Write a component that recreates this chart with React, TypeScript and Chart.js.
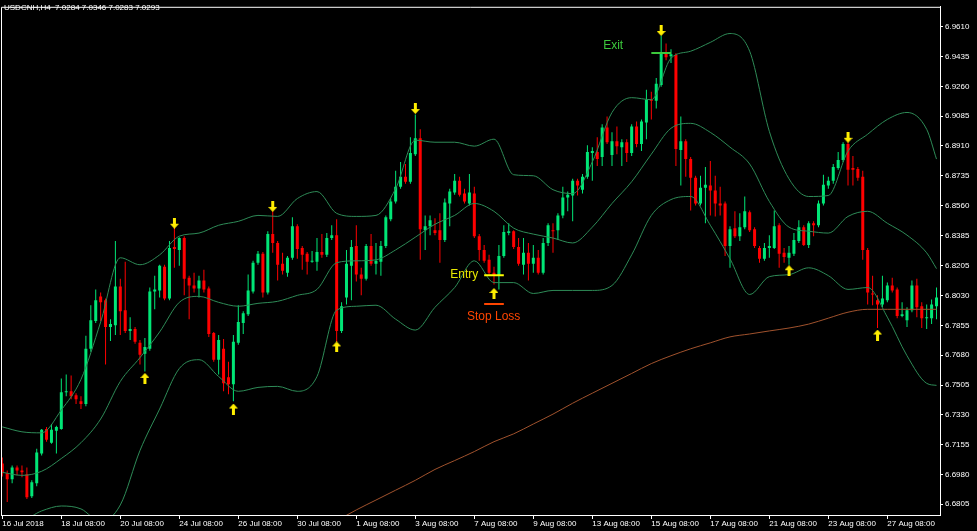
import React, { useEffect, useRef } from "react";
import { Chart, registerables } from "chart.js";
Chart.register(...registerables);

const headerText = "USDCNH,H4  7.0284 7.0346 7.0283 7.0293";

const dateTickIdx = [0, 12, 24, 36, 48, 60, 72, 84, 96, 108, 120, 132, 144, 156, 168, 180];
const dateLabels = [
  "16 Jul 2018", "18 Jul 08:00", "20 Jul 08:00", "24 Jul 08:00", "26 Jul 08:00", "30 Jul 08:00",
  "1 Aug 08:00", "3 Aug 08:00", "7 Aug 08:00", "9 Aug 08:00", "13 Aug 08:00", "15 Aug 08:00",
  "17 Aug 08:00", "21 Aug 08:00", "23 Aug 08:00", "27 Aug 08:00",
];
const priceTicks = [
  6.961, 6.9435, 6.926, 6.9085, 6.891, 6.8735, 6.856, 6.8385, 6.8205, 6.803, 6.7855, 6.768,
  6.7505, 6.733, 6.7155, 6.698, 6.6805,
];

const opens = [
  6.7044, 6.6986, 6.6951, 6.7021, 6.7003, 6.698, 6.6852, 6.6928, 6.7102, 6.7247,
  6.7166, 6.7236, 6.7247, 6.7462, 6.7468, 6.7445, 6.741, 6.7393, 6.7718, 6.7881,
  6.8026, 6.8003, 6.7846, 6.7857, 6.8084, 6.7945, 6.7823, 6.7834, 6.7753, 6.7689,
  6.7718, 6.8055, 6.8061, 6.82, 6.8014, 6.8316, 6.8299, 6.8369, 6.8136, 6.809,
  6.8072, 6.8119, 6.8072, 6.7811, 6.7654, 6.7718, 6.755, 6.7509, 6.7753, 6.7869,
  6.7921, 6.8055, 6.8224, 6.8276, 6.8049, 6.8392, 6.834, 6.8218, 6.8165, 6.8253,
  6.8438, 6.8311, 6.8276, 6.8229, 6.8229, 6.8287, 6.827, 6.8369, 6.8386, 6.7823,
  6.802, 6.8206, 6.8322, 6.8154, 6.813, 6.8322, 6.8218, 6.8229, 6.8322, 6.8479,
  6.8584, 6.8671, 6.8729, 6.87, 6.8862, 6.8955, 6.8415, 6.8438, 6.8415, 6.8415,
  6.8357, 6.8572, 6.8636, 6.8706, 6.863, 6.8572, 6.863, 6.838, 6.8299, 6.8241,
  6.8165, 6.8148, 6.8264, 6.8398, 6.8409, 6.8316, 6.8212, 6.8282, 6.8218, 6.8253,
  6.8165, 6.834, 6.8415, 6.8415, 6.8502, 6.8607, 6.8619, 6.8706, 6.8653, 6.8729,
  6.8868, 6.8874, 6.8845, 6.9019, 6.8857, 6.8938, 6.8903, 6.8932, 6.8868, 6.9025,
  6.8921, 6.9048, 6.9182, 6.9176, 6.9269, 6.9461, 6.9438, 6.9444, 6.8886, 6.8938,
  6.8833, 6.8723, 6.8572, 6.8665, 6.8677, 6.8648, 6.8572, 6.8572, 6.8322, 6.8427,
  6.838, 6.8433, 6.852, 6.8421, 6.8311, 6.8247, 6.8311, 6.8311, 6.8444, 6.8282,
  6.8253, 6.8276, 6.8351, 6.8433, 6.8328, 6.8456, 6.8444, 6.8572, 6.8677, 6.8706,
  6.8781, 6.8828, 6.8921, 6.8781, 6.8775, 6.8729, 6.8299, 6.8043, 6.8003, 6.7979,
  6.8003, 6.809, 6.8067, 6.791, 6.7886, 6.7945, 6.809, 6.7968, 6.7898, 6.7898,
  6.7968,
];
const highs = [
  6.7079, 6.7003, 6.7032, 6.7032, 6.7032, 6.7021, 6.6945, 6.7131, 6.7247, 6.7259,
  6.7276, 6.7265, 6.7544, 6.7567, 6.7561, 6.7457, 6.7439, 6.7794, 6.7974, 6.8067,
  6.8049, 6.8014, 6.7892, 6.8351, 6.813, 6.8229, 6.7904, 6.7846, 6.777, 6.7782,
  6.8078, 6.8148, 6.8212, 6.8212, 6.8351, 6.8438, 6.8374, 6.838, 6.8148, 6.8165,
  6.8148, 6.8183, 6.8084, 6.7817, 6.7799, 6.7776, 6.7642, 6.7799, 6.7974, 6.7939,
  6.8154, 6.8235, 6.8293, 6.8287, 6.8409, 6.8526, 6.8351, 6.8282, 6.8264, 6.8491,
  6.845, 6.8322, 6.8287, 6.8293, 6.8369, 6.8392, 6.8398, 6.8444, 6.8479, 6.7991,
  6.8299, 6.8357, 6.8444, 6.8194, 6.8334, 6.8392, 6.834, 6.8351, 6.8502, 6.8601,
  6.8764, 6.8816, 6.8804, 6.8961, 6.9095, 6.9008, 6.8502, 6.8502, 6.8485, 6.8514,
  6.8601, 6.8659, 6.8746, 6.8729, 6.8659, 6.8746, 6.8671, 6.8392, 6.8328, 6.827,
  6.82, 6.8328, 6.8444, 6.8456, 6.8415, 6.8369, 6.8369, 6.834, 6.8328, 6.8299,
  6.8369, 6.8456, 6.8456, 6.8514, 6.8671, 6.8642, 6.8717, 6.8717, 6.8746, 6.8915,
  6.8903, 6.8961, 6.9037, 6.9083, 6.899, 6.9025, 6.895, 6.895, 6.9037, 6.9054,
  6.9066, 6.924, 6.9229, 6.931, 6.956, 6.9513, 6.9478, 6.9455, 6.9083, 6.895,
  6.8845, 6.8735, 6.8735, 6.8787, 6.8822, 6.8735, 6.8671, 6.8584, 6.8438, 6.8526,
  6.8514, 6.8613, 6.8531, 6.8433, 6.8322, 6.834, 6.8386, 6.8531, 6.8456, 6.8311,
  6.8322, 6.8398, 6.8473, 6.8444, 6.8467, 6.8467, 6.8589, 6.8741, 6.8729, 6.8804,
  6.8874, 6.8932, 6.8932, 6.8851, 6.8787, 6.8764, 6.8311, 6.8148, 6.8032, 6.8148,
  6.8107, 6.8136, 6.8078, 6.7991, 6.7962, 6.8119, 6.813, 6.7991, 6.7979, 6.8008,
  6.8078,
];
const lows = [
  6.6968, 6.6817, 6.6928, 6.6974, 6.6963, 6.6835, 6.6841, 6.691, 6.7091, 6.7172,
  6.716, 6.7102, 6.7242, 6.7439, 6.7422, 6.7393, 6.7364, 6.7381, 6.7701, 6.7869,
  6.7881, 6.7625, 6.7764, 6.7799, 6.7799, 6.7811, 6.777, 6.7747, 6.7625, 6.7584,
  6.7706, 6.795, 6.802, 6.8003, 6.8003, 6.8194, 6.8206, 6.8032, 6.7892, 6.8049,
  6.802, 6.8049, 6.7788, 6.7642, 6.7567, 6.7468, 6.7451, 6.741, 6.7741, 6.7805,
  6.791, 6.8043, 6.8212, 6.802, 6.8037, 6.8282, 6.8119, 6.8154, 6.8142, 6.8241,
  6.8247, 6.8183, 6.8154, 6.8224, 6.8177, 6.8253, 6.8258, 6.8357, 6.7759, 6.7811,
  6.7979, 6.8003, 6.8113, 6.8032, 6.8119, 6.8206, 6.8154, 6.8148, 6.8311, 6.8467,
  6.8572, 6.8659, 6.8688, 6.8688, 6.8851, 6.8241, 6.8299, 6.8386, 6.8386, 6.8224,
  6.8345, 6.8438, 6.8624, 6.8613, 6.8572, 6.856, 6.8369, 6.8235, 6.8224, 6.8154,
  6.8096, 6.8067, 6.8253, 6.8386, 6.8305, 6.8206, 6.8154, 6.8119, 6.8165, 6.8154,
  6.8154, 6.8322, 6.8282, 6.8357, 6.8485, 6.8526, 6.8467, 6.8619, 6.863, 6.8717,
  6.8706, 6.8793, 6.8793, 6.8921, 6.8793, 6.8862, 6.8793, 6.8816, 6.8851, 6.8903,
  6.888, 6.895, 6.9066, 6.913, 6.9258, 6.9414, 6.9397, 6.8793, 6.8677, 6.8729,
  6.8531, 6.856, 6.856, 6.8456, 6.8502, 6.8496, 6.8502, 6.8264, 6.8194, 6.8369,
  6.8351, 6.8421, 6.8404, 6.8311, 6.8224, 6.8235, 6.8253, 6.8305, 6.8194, 6.8224,
  6.8212, 6.8264, 6.834, 6.8322, 6.8311, 6.838, 6.8433, 6.856, 6.8659, 6.8688,
  6.877, 6.8816, 6.8677, 6.8677, 6.8706, 6.8241, 6.7979, 6.7974, 6.784, 6.7962,
  6.7991, 6.8049, 6.7898, 6.7904, 6.7846, 6.7933, 6.7904, 6.784, 6.7834, 6.7863,
  6.7892,
];
const closes = [
  6.6986, 6.6951, 6.7021, 6.7003, 6.6992, 6.6846, 6.6934, 6.7108, 6.7242, 6.7183,
  6.7242, 6.7259, 6.7462, 6.7468, 6.7439, 6.7422, 6.7393, 6.7718, 6.7886, 6.8003,
  6.7991, 6.7846, 6.7863, 6.8084, 6.7939, 6.7823, 6.7834, 6.7759, 6.7683, 6.7729,
  6.8055, 6.8067, 6.8206, 6.8014, 6.8311, 6.8305, 6.8369, 6.813, 6.809, 6.8072,
  6.8119, 6.8067, 6.7805, 6.7654, 6.777, 6.7515, 6.7509, 6.7759, 6.7875, 6.7927,
  6.8061, 6.8224, 6.8276, 6.8049, 6.8392, 6.834, 6.8212, 6.8177, 6.8253, 6.8438,
  6.8305, 6.827, 6.8229, 6.8235, 6.8287, 6.827, 6.8369, 6.8386, 6.7823, 6.7968,
  6.8218, 6.8316, 6.8154, 6.813, 6.8322, 6.8218, 6.8235, 6.8322, 6.8491, 6.8584,
  6.8671, 6.8729, 6.87, 6.8868, 6.8955, 6.8421, 6.8438, 6.8473, 6.8398, 6.8357,
  6.8578, 6.8642, 6.8706, 6.8624, 6.8584, 6.8636, 6.838, 6.8299, 6.8235, 6.8165,
  6.8148, 6.8264, 6.8404, 6.8409, 6.8316, 6.8218, 6.8282, 6.8218, 6.8253, 6.8165,
  6.834, 6.8444, 6.8409, 6.8502, 6.8607, 6.8624, 6.8706, 6.8677, 6.8729, 6.8874,
  6.888, 6.8833, 6.9019, 6.8932, 6.8938, 6.8909, 6.8932, 6.8868, 6.9025, 6.8921,
  6.9054, 6.9182, 6.9176, 6.9275, 6.9455, 6.9432, 6.9449, 6.8892, 6.8938, 6.8833,
  6.8723, 6.8572, 6.8665, 6.8682, 6.8648, 6.8572, 6.856, 6.8322, 6.8421, 6.838,
  6.8433, 6.8526, 6.8415, 6.8322, 6.8247, 6.8311, 6.8322, 6.8438, 6.8276, 6.8258,
  6.8282, 6.8357, 6.8433, 6.8328, 6.8456, 6.8444, 6.8572, 6.8682, 6.8706, 6.8787,
  6.8828, 6.8921, 6.877, 6.877, 6.8723, 6.8299, 6.8049, 6.8037, 6.7979, 6.8014,
  6.809, 6.8061, 6.791, 6.7921, 6.7945, 6.809, 6.7962, 6.7898, 6.7904, 6.7979,
  6.802,
];

const bandIdx = [
  0, 4, 8, 12, 16, 20, 24, 28, 32, 36, 40, 44, 48, 52, 56, 60, 64, 68, 72, 76, 80, 84, 88, 92, 96,
  100, 104, 108, 112, 116, 120, 124, 128, 132, 136, 140, 144, 148, 152, 156, 160, 164, 168, 172,
  176, 180, 184, 188, 190,
];
const upperBand = [
  6.7259, 6.723, 6.7224, 6.7358, 6.7538, 6.7875, 6.8253, 6.8212, 6.827, 6.838, 6.8398, 6.8444,
  6.8467, 6.8502, 6.8496, 6.8601, 6.8642, 6.8514, 6.8496, 6.8502, 6.8659, 6.8944, 6.8932, 6.8932,
  6.8909, 6.895, 6.8741, 6.8735, 6.8653, 6.863, 6.8816, 6.9107, 6.9194, 6.9182, 6.9426, 6.9467,
  6.9519, 6.9571, 6.9467, 6.8996, 6.8717, 6.8613, 6.8619, 6.888, 6.8979, 6.9066, 6.9107, 6.9008,
  6.8833,
];
const middleBand = [
  6.6992, 6.6974, 6.6998, 6.7073, 6.7166, 6.7305, 6.7526, 6.7666, 6.7817, 6.7991, 6.8026, 6.7991,
  6.7968, 6.7985, 6.7997, 6.8032, 6.8067, 6.8224, 6.8235, 6.8241, 6.8299, 6.8374, 6.845, 6.8502,
  6.8572, 6.8526, 6.8427, 6.8392, 6.8369, 6.834, 6.8433, 6.8572, 6.87, 6.8862, 6.9014, 6.9043,
  6.899, 6.8903, 6.8804, 6.8584, 6.8433, 6.8409, 6.8398, 6.8496, 6.8526, 6.8456, 6.8386, 6.8282,
  6.8189,
];
const lowerBand = [
  6.6724, 6.6713, 6.6765, 6.6794, 6.6777, 6.6701, 6.68, 6.712, 6.7364, 6.7602, 6.7654, 6.7555,
  6.7468, 6.7491, 6.7497, 6.7468, 6.7555, 6.7945, 6.7968, 6.7974, 6.7892, 6.7828, 6.7962, 6.8078,
  6.8235, 6.8107, 6.8107, 6.8043, 6.8061, 6.8061, 6.8061, 6.809, 6.827, 6.8502, 6.8595, 6.8613,
  6.8444, 6.8247, 6.8037, 6.8142, 6.8154, 6.8194, 6.8148, 6.8067, 6.8078, 6.7904, 6.7677, 6.7515,
  6.7503,
];

const maIdx = [
  68, 72, 76, 80, 84, 88, 92, 96, 100, 104, 108, 112, 116, 120, 124, 128, 132, 136, 140, 144, 148,
  152, 156, 160, 164, 168, 172, 176, 180, 184, 188, 190,
];
const maValues = [
  6.6707, 6.6771, 6.6829, 6.6887, 6.6945, 6.7009, 6.7061, 6.7114, 6.7172, 6.7218, 6.7276, 6.7334,
  6.7398, 6.7457, 6.7515, 6.7573, 6.7631, 6.7677, 6.7718, 6.7753, 6.7788, 6.7805, 6.7823, 6.784,
  6.7863, 6.7898, 6.7933, 6.795, 6.795, 6.795, 6.795, 6.795,
];

const upArrowIdx = [29, 47, 68, 100, 160, 178];
const upArrowPrice = [6.7544, 6.7364, 6.7729, 6.8043, 6.8177, 6.7799];
const downArrowIdx = [35, 55, 84, 134, 172];
const downArrowPrice = [6.8456, 6.8555, 6.913, 6.9589, 6.8961];

const entryLevel = 6.815;
const stopLevel = 6.7981;
const exitLevel = 6.9457;
const entrySpan = [98, 102];
const exitSpan = [132, 136];

const notes = [
  { text: "Exit", idx: 122.2, price: 6.9502, color: "#3cc83c" },
  { text: "Entry", idx: 91.1, price: 6.8154, color: "#e8e800" },
  { text: "Stop Loss", idx: 94.5, price: 6.7904, color: "#ff4500" },
];

const X_MIN = -0.2644;
const X_MAX = 190.71;
const Y_MIN = 6.67411;
const Y_MAX = 6.9728;

const UP = "#00e676";
const DOWN = "#ff0000";
const BAND = "#2e8b57";
const MA = "#a0522d";
const FONT = "Liberation Sans";

function makeArrow(up: boolean): HTMLCanvasElement {
  const c = document.createElement("canvas");
  c.width = 9;
  c.height = 11;
  const g = c.getContext("2d")!;
  g.fillStyle = "#ffee00";
  g.beginPath();
  if (up) {
    g.moveTo(4.5, 0);
    g.lineTo(9, 5);
    g.lineTo(6, 5);
    g.lineTo(6, 11);
    g.lineTo(3, 11);
    g.lineTo(3, 5);
    g.lineTo(0, 5);
  } else {
    g.moveTo(4.5, 11);
    g.lineTo(9, 6);
    g.lineTo(6, 6);
    g.lineTo(6, 0);
    g.lineTo(3, 0);
    g.lineTo(3, 6);
    g.lineTo(0, 6);
  }
  g.closePath();
  g.fill();
  return c;
}

export default function App() {
  const ref = useRef<HTMLCanvasElement>(null);
  useEffect(() => {
    document.body.style.margin = "0";
    document.body.style.background = "#000";
    const canvas = ref.current!;
    const upImg = makeArrow(true);
    const downImg = makeArrow(false);

    const bgPlugin = {
      id: "bg",
      beforeDraw(chart: any) {
        const { ctx, width, height } = chart;
        ctx.save();
        ctx.fillStyle = "#000";
        ctx.fillRect(0, 0, width, height);
        ctx.restore();
      },
      afterDraw(chart: any) {
        const { ctx, chartArea } = chart;
        ctx.save();
        ctx.strokeStyle = "#ffffff";
        ctx.lineWidth = 1;
        ctx.beginPath();
        ctx.moveTo(chartArea.left + 0.5, chartArea.bottom);
        ctx.lineTo(chartArea.left + 0.5, chartArea.top + 0.5);
        ctx.lineTo(chartArea.right, chartArea.top + 0.5);
        ctx.stroke();
        ctx.fillStyle = "#ffffff";
        ctx.font = `8px ${FONT}`;
        ctx.textBaseline = "middle";
        ctx.textAlign = "left";
        ctx.fillText(headerText, 4, 8);
        const xs = chart.scales.x;
        const ys = chart.scales.y;
        ctx.font = `12px ${FONT}`;
        for (const n of notes) {
          ctx.fillStyle = n.color;
          ctx.fillText(n.text, xs.getPixelForValue(n.idx), ys.getPixelForValue(n.price));
        }
        ctx.restore();
      },
    };

    const bodyColors = opens.map((o, i) => (closes[i] >= o ? UP : DOWN));

    const lineDs = (label: string, xsArr: number[], ysArr: number[], color: string, width: number, order: number) => ({
      type: "line" as const,
      label,
      data: xsArr.map((x, k) => ({ x, y: ysArr[k] })),
      borderColor: color,
      borderWidth: width,
      pointRadius: 0,
      cubicInterpolationMode: "monotone" as const,
      order,
    });

    const chart = new Chart(canvas, {
      type: "bar",
      data: {
        datasets: [
          {
            type: "bar",
            label: "wicks",
            data: lows.map((l, i) => ({ x: i, y: [l, highs[i]] })) as any,
            backgroundColor: bodyColors,
            grouped: false,
            maxBarThickness: 1,
            minBarLength: 1,
            borderWidth: 0,
            order: 5,
          },
          {
            type: "bar",
            label: "bodies",
            data: opens.map((o, i) => ({ x: i, y: [o, closes[i]] })) as any,
            backgroundColor: bodyColors,
            grouped: false,
            maxBarThickness: 3,
            minBarLength: 1,
            borderWidth: 0,
            order: 4,
          },
          lineDs("ma", maIdx, maValues, MA, 1, 3),
          lineDs("upper", bandIdx, upperBand, BAND, 1, 2),
          lineDs("middle", bandIdx, middleBand, BAND, 1, 2),
          lineDs("lower", bandIdx, lowerBand, BAND, 1, 2),
          lineDs("entry", entrySpan, [entryLevel, entryLevel], "#ffff00", 2, 1),
          lineDs("stop", entrySpan, [stopLevel, stopLevel], "#ff4500", 2, 1),
          lineDs("exit", exitSpan, [exitLevel, exitLevel], "#3cc83c", 2, 1),
          {
            type: "scatter",
            label: "up",
            data: upArrowIdx.map((x, k) => ({ x, y: upArrowPrice[k] })),
            pointStyle: upImg as any,
            order: 0,
          },
          {
            type: "scatter",
            label: "down",
            data: downArrowIdx.map((x, k) => ({ x, y: downArrowPrice[k] })),
            pointStyle: downImg as any,
            order: 0,
          },
        ] as any,
      },
      options: {
        responsive: false,
        devicePixelRatio: 1,
        animation: false,
        events: [],
        layout: { autoPadding: false, padding: { left: 1, top: 1, right: 0, bottom: 0 } },
        plugins: { legend: { display: false }, tooltip: { enabled: false } },
        scales: {
          x: {
            type: "linear",
            min: X_MIN,
            max: X_MAX,
            offset: false,
            grid: { display: true, drawOnChartArea: false, drawTicks: true, tickLength: 4, color: "#ffffff", offset: false },
            border: { display: true, color: "#ffffff" },
            ticks: {
              color: "#ffffff",
              font: { family: FONT, size: 8 },
              autoSkip: false,
              maxRotation: 0,
              minRotation: 0,
              align: "start",
              labelOffset: 0,
              padding: 0,
              callback: (v: any) => {
                const k = dateTickIdx.indexOf(Number(v));
                return k >= 0 ? dateLabels[k] : "";
              },
            },
            afterBuildTicks: (s: any) => {
              s.ticks = dateTickIdx.map((v) => ({ value: v }));
            },
            afterFit: (s: any) => {
              s.height = 16;
            },
          },
          y: {
            type: "linear",
            position: "right",
            min: Y_MIN,
            max: Y_MAX,
            grid: { display: true, drawOnChartArea: false, drawTicks: true, tickLength: 3, color: "#ffffff" },
            border: { display: true, color: "#ffffff" },
            ticks: {
              color: "#ffffff",
              font: { family: FONT, size: 8 },
              padding: 2,
              autoSkip: false,
              callback: (v: any) => Number(v).toFixed(4),
            },
            afterBuildTicks: (s: any) => {
              s.ticks = priceTicks.map((v) => ({ value: v }));
            },
            afterFit: (s: any) => {
              s.width = 37;
            },
          },
        },
      } as any,
      plugins: [bgPlugin],
    });
    return () => chart.destroy();
  }, []);
  return (
    <div style={{ width: 977, height: 531, background: "#000" }}>
      <canvas ref={ref} width={977} height={531} style={{ display: "block" }} />
    </div>
  );
}
